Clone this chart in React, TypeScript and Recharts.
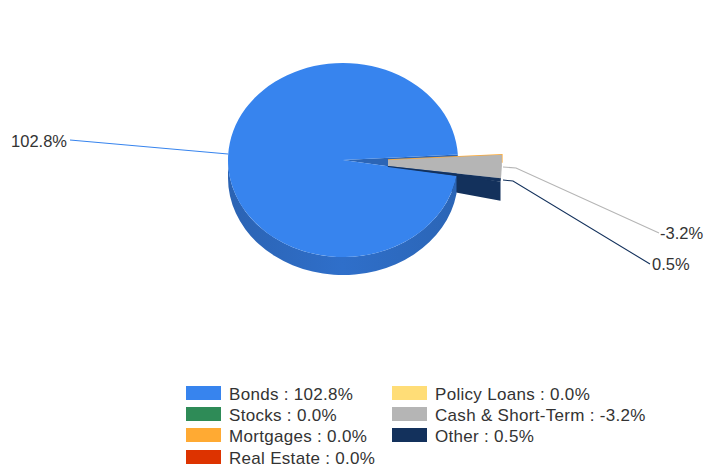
import React from 'react';
import { PieChart, Pie, Legend } from 'recharts';

const CATEGORIES = ['Bonds', 'Stocks', 'Mortgages', 'Real Estate', 'Policy Loans', 'Cash & Short-Term', 'Other'];
const VALUES = [102.8, 0.0, 0.0, 0.0, 0.0, -3.2, 0.5];
const COLORS = ['#3784ee', '#2e8b57', '#ffaa33', '#dd3300', '#ffdd77', '#b5b5b5', '#13315c'];

// slices are sized by magnitude, the signed number only shows up in the text
const tableData = CATEGORIES.map((name, i) => ({
  name,
  value: Math.abs(VALUES[i]),
  signed: VALUES[i],
  fill: COLORS[i],
}));

const RY = 97; // flattened pie
const DEPTH = 18;
const EXPLODE_X = 44;
const EXPLODE_Y = 1.8;
const EXPLODE_RY = 124; // the pulled out slices look stretched in the original
const BLUNT_RY = 32; // and their tip is cut off instead of meeting in a point

const LEADERS: Record<string, { line: string; x: number; y: number; anchor: 'start' | 'end' }> = {
  Bonds: { line: '228,154 70,140', x: 67, y: 141, anchor: 'end' },
  'Cash & Short-Term': { line: '503,167 516,168 659,233', x: 660, y: 233, anchor: 'start' },
  Other: { line: '503,180 513,181 650,264', x: 652, y: 264, anchor: 'start' },
};

const pt = (cx: number, cy: number, r: number, ry: number, deg: number) => {
  const a = (deg * Math.PI) / 180;
  return [cx + r * Math.cos(a), cy - ry * Math.sin(a)];
};

// navy wall sits behind the big slice
function ExplodedWall(props: any) {
  const { cx, cy, outerRadius: r, startAngle, endAngle, fill, index } = props;
  if (startAngle === endAngle || index !== CATEGORIES.length - 1) return <g />;
  const ax = cx + EXPLODE_X;
  const ay = cy + EXPLODE_Y;
  const [x1, y1] = pt(ax, ay, r, EXPLODE_RY, endAngle);
  return (
    <path d={`M${ax},${ay} L${x1},${y1} L${x1},${y1 + DEPTH + 1} L${ax},${ay + DEPTH} Z`} fill={fill} />
  );
}

function MainSlice(props: any) {
  const { cx, cy, outerRadius: r, startAngle, endAngle, fill, index } = props;
  if (index !== 0) return <g />;
  const [sx, sy] = pt(cx, cy, r, RY, startAngle);
  const [ex, ey] = pt(cx, cy, r, RY, endAngle);
  const left = cx - r;
  return (
    <g>
      <defs>
        <linearGradient id="wallGrad" x1="0" x2="1" y1="0" y2="0">
          <stop offset="0" stopColor="#2b63b3" />
          <stop offset="0.5" stopColor="#2f6fca" />
          <stop offset="1" stopColor="#2b65b6" />
        </linearGradient>
      </defs>
      <path
        d={`M${left},${cy} A${r},${RY} 0 0 0 ${sx},${sy} L${sx},${sy + DEPTH} A${r},${RY} 0 0 1 ${left},${cy + DEPTH} Z`}
        fill="url(#wallGrad)"
      />
      <path d={`M${cx},${cy} L${sx},${sy} L${ex},${ey} Z`} fill="#2b65b6" />
      <path d={`M${cx},${cy} L${sx},${sy} A${r},${RY} 0 1 1 ${ex},${ey} Z`} fill={fill} />
    </g>
  );
}

function ExplodedTop(props: any) {
  const { cx, cy, outerRadius: r, startAngle, endAngle, fill, index } = props;
  if (index === 0) return <g />;
  const ax = cx + EXPLODE_X;
  const ay = cy + EXPLODE_Y;
  const [sx, sy] = pt(ax, ay, r, EXPLODE_RY, startAngle);
  const [ex, ey] = pt(ax, ay, r, EXPLODE_RY, endAngle);
  const [ix0, iy0] = pt(ax, ay, 1, BLUNT_RY, startAngle);
  const [ix1, iy1] = pt(ax, ay, 1, BLUNT_RY, endAngle);
  if (startAngle === endAngle) {
    // zero slices collapse to an edge, only the orange one shows in the original
    if (CATEGORIES[index] !== 'Mortgages') return <g />;
    return <path d={`M${ix0},${iy0} L${sx},${sy} l0,8`} fill="none" stroke={fill} strokeWidth={1.5} />;
  }
  return <path d={`M${ix0},${iy0} L${sx},${sy} A${r},${EXPLODE_RY} 0 0 1 ${ex},${ey} L${ix1},${iy1} Z`} fill={fill} />;
}

function renderLabel(props: any) {
  const name = CATEGORIES[props.index];
  const leader = LEADERS[name];
  if (!leader) return null;
  return (
    <g>
      <polyline points={leader.line} fill="none" stroke={COLORS[props.index]} strokeWidth={1.1} />
      <text x={leader.x} y={leader.y} textAnchor={leader.anchor} dominantBaseline="central" fontSize={16.5} fill="#333">
        {VALUES[props.index].toFixed(1)}%
      </text>
    </g>
  );
}

function LegendBlock() {
  return (
    <div style={{ position: 'relative', width: 704, height: 90 }}>
      {CATEGORIES.map((name, i) => {
        const col = i < 4 ? 0 : 1;
        const row = col === 0 ? i : i - 4;
        const x = col === 0 ? 186 : 392;
        const y = [0, 21, 42, 64][row];
        return (
          <div key={name}>
            <div style={{ position: 'absolute', left: x, top: y, width: 35, height: 14, background: COLORS[i] }} />
            <div
              style={{
                position: 'absolute',
                left: x + 43,
                top: y - 1,
                fontSize: 17,
                letterSpacing: 0.3,
                lineHeight: '20px',
                color: '#333',
                whiteSpace: 'nowrap',
              }}
            >
              {name} : {VALUES[i].toFixed(1)}%
            </div>
          </div>
        );
      })}
    </div>
  );
}

const sharedPie = {
  data: tableData,
  dataKey: 'value',
  nameKey: 'name',
  cx: 343,
  cy: 160,
  outerRadius: 115,
  startAngle: -9.3,
  endAngle: -369.3,
  stroke: 'none',
  isAnimationActive: false,
};

export default function App() {
  return (
    <div style={{ position: 'absolute', left: 0, top: 0, fontFamily: '"Liberation Sans", Arial, sans-serif' }}>
      <PieChart width={704} height={470} margin={{ top: 0, right: 0, bottom: 0, left: 0 }}>
        <Pie {...sharedPie} legendType="none" shape={ExplodedWall} />
        <Pie {...sharedPie} legendType="none" shape={MainSlice} />
        <Pie {...sharedPie} shape={ExplodedTop} label={renderLabel} labelLine={false} />
        <Legend
          content={() => <LegendBlock />}
          wrapperStyle={{ position: 'absolute', left: 0, top: 386, width: 704, height: 90, bottom: 'auto' }}
        />
      </PieChart>
    </div>
  );
}
